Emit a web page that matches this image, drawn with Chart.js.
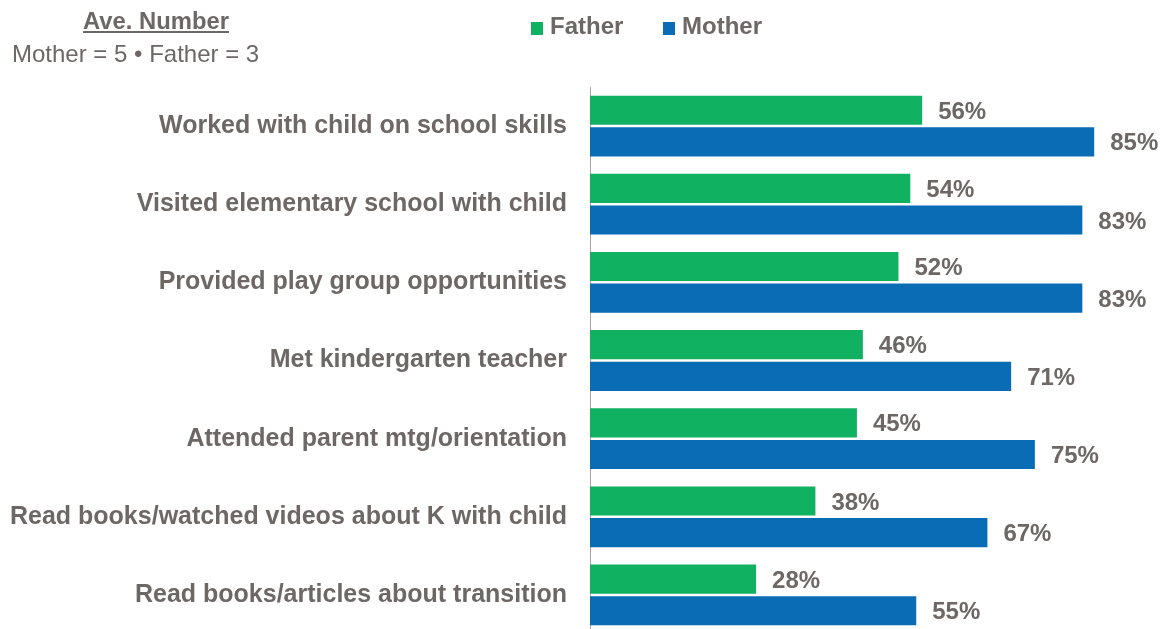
<!DOCTYPE html>
<html><head><meta charset="utf-8">
<script src="https://cdn.jsdelivr.net/npm/chart.js@4"></script>
<style>
html,body{margin:0;padding:0;background:#fff;overflow:hidden;width:1163px;height:629px;}
#wrap{position:relative;width:1163px;height:640px;}
canvas{position:absolute;left:0;top:0;width:1163px;height:640px;}
.t{position:absolute;font-family:"Liberation Sans",Arial,sans-serif;color:#6d6766;white-space:nowrap;line-height:1;}
.lg{display:inline-block;width:12px;height:13px;margin-right:7px;vertical-align:-1px;}
</style></head>
<body>
<div id="wrap">
<canvas id="chart" width="1163" height="640"></canvas>
<div class="t" style="left:83px;top:9px;font-size:23.8px;font-weight:bold;text-decoration:underline;">Ave. Number</div>
<div class="t" style="left:12px;top:42px;font-size:24px;">Mother = 5 • Father = 3</div>
<div class="t" style="left:531px;top:14px;font-size:24px;font-weight:bold;"><span class="lg" style="background:#10b160"></span>Father</div>
<div class="t" style="left:663px;top:14px;font-size:24px;font-weight:bold;"><span class="lg" style="background:#0b6cb6"></span>Mother</div>
</div>
<script>
const categories = [
  "Worked with child on school skills",
  "Visited elementary school with child",
  "Provided play group opportunities",
  "Met kindergarten teacher",
  "Attended parent mtg/orientation",
  "Read books/watched videos about K with child",
  "Read books/articles about transition"
];
const fatherValues = [56, 54, 52, 46, 45, 38, 28];
const motherValues = [85, 83, 83, 71, 75, 67, 55];
const seriesNames = ["Father", "Mother"];
const seriesColors = ["#10b160", "#0b6cb6"];

const textColor = "#6d6766";
const fontFamily = '"Liberation Sans", Arial, sans-serif';

const valueLabels = {
  id: 'valueLabels',
  afterDatasetsDraw(chart) {
    const ctx = chart.ctx;
    ctx.save();
    ctx.font = 'bold 24px ' + fontFamily;
    ctx.fillStyle = textColor;
    ctx.textAlign = 'left';
    ctx.textBaseline = 'alphabetic';
    chart.data.datasets.forEach((ds, di) => {
      chart.getDatasetMeta(di).data.forEach((bar, i) => {
        ctx.fillText(ds.data[i] + '%', bar.x + 16, bar.y + 8.6);
      });
    });
    ctx.restore();
  }
};

new Chart(document.getElementById('chart'), {
  type: 'bar',
  data: {
    labels: categories,
    datasets: [
      { label: seriesNames[0], data: fatherValues, backgroundColor: seriesColors[0] },
      { label: seriesNames[1], data: motherValues, backgroundColor: seriesColors[1] }
    ]
  },
  options: {
    indexAxis: 'y',
    responsive: false,
    maintainAspectRatio: false,
    animation: false,
    categoryPercentage: 0.81,
    barPercentage: 0.92,
    layout: { padding: { top: 87, bottom: 6, left: 0, right: 0 } },
    plugins: { legend: { display: false }, tooltip: { enabled: false } },
    scales: {
      x: { display: false, min: 0, max: 96.6 },
      y: {
        afterFit(scale) { scale.width = 590; scale.paddingTop = 0; scale.paddingBottom = 0; },
        grid: { display: false, drawTicks: false },
        border: { display: true, color: '#a6a6a6', width: 1 },
        ticks: { color: textColor, padding: 23, font: { family: fontFamily, size: 25, weight: 'bold' } }
      }
    }
  },
  plugins: [valueLabels]
});
</script>
</body></html>
